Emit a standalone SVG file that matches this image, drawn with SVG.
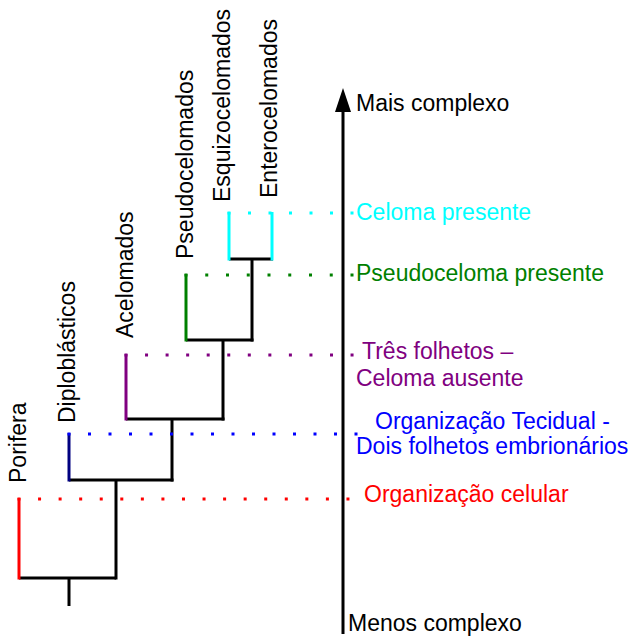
<svg xmlns="http://www.w3.org/2000/svg" width="640" height="642" viewBox="0 0 640 642">
<style>
text{font-family:"Liberation Sans",Arial,sans-serif;font-size:23px}
.b{stroke:#000;stroke-width:3;fill:none}
.d{stroke-width:3;fill:none;stroke-linecap:butt}
.v{fill:#000}
</style>
<rect width="640" height="642" fill="#fff"/>
<g id="connectors">
<line class="b" x1="69" y1="578" x2="69" y2="606"/>
<polyline class="b" points="19,578 116,578"/>
<line class="b" x1="116" y1="480" x2="116" y2="579.5"/>
<line class="b" x1="69" y1="480" x2="173.5" y2="480"/>
<line class="b" x1="172" y1="419" x2="172" y2="481.5"/>
<line class="b" x1="126" y1="419" x2="224.5" y2="419"/>
<line class="b" x1="223" y1="340" x2="223" y2="420.5"/>
<line class="b" x1="186" y1="340" x2="253.5" y2="340"/>
<line class="b" x1="252" y1="259" x2="252" y2="341.5"/>
<line class="b" x1="229" y1="259" x2="273" y2="259"/>
<line stroke="#ff0000" stroke-width="3" x1="19" y1="498" x2="19" y2="579.5"/>
<line stroke="#000080" stroke-width="3" x1="69" y1="433" x2="69" y2="481.5"/>
<line stroke="#800080" stroke-width="3" x1="126" y1="354" x2="126" y2="420.5"/>
<line stroke="#008000" stroke-width="3" x1="186" y1="274" x2="186" y2="341.5"/>
<line stroke="#00ffff" stroke-width="3" x1="229" y1="212" x2="229" y2="260.5"/>
<line stroke="#00ffff" stroke-width="3" x1="272" y1="212" x2="272" y2="260.5"/>
<line class="d" stroke="#00ffff" stroke-dasharray="3 17.5" x1="227.5" y1="213" x2="354" y2="213"/>
<line class="d" stroke="#008000" stroke-dasharray="3 17.75" x1="184.5" y1="275" x2="354" y2="275"/>
<line class="d" stroke="#800080" stroke-dasharray="3 17.55" x1="124.5" y1="355" x2="354" y2="355"/>
<line class="d" stroke="#0000ff" stroke-dasharray="3 17.5" x1="67.5" y1="434" x2="358" y2="434"/>
<line class="d" stroke="#ff0000" stroke-dasharray="3 17.56" x1="17.5" y1="499" x2="350" y2="499"/>
<line class="b" x1="343" y1="108" x2="343" y2="634"/>
<polygon class="v" points="343,88 335,112 351,112"/>
</g>
<g id="porifera"><text transform="translate(26,483) rotate(-90)">Porifera</text></g>
<g id="diploblasticos"><text transform="translate(75,423) rotate(-90)">Diploblásticos</text></g>
<g id="acelomados"><text transform="translate(133,338) rotate(-90)">Acelomados</text></g>
<g id="pseudocelomados"><text transform="translate(193,259) rotate(-90)">Pseudocelomados</text></g>
<g id="esquizocelomados"><text transform="translate(230,202) rotate(-90)">Esquizocelomados</text></g>
<g id="enterocelomados"><text transform="translate(277,198) rotate(-90)">Enterocelomados</text></g>
<g id="mais"><text x="356" y="111">Mais complexo</text></g>
<g id="menos"><text x="348" y="631">Menos complexo</text></g>
<g id="celoma"><text x="356" y="220" fill="#00ffff">Celoma presente</text></g>
<g id="pseudoceloma"><text x="356" y="281" fill="#008000">Pseudoceloma presente</text></g>
<g id="tres"><text fill="#800080"><tspan x="362" y="359">Três folhetos –</tspan><tspan x="356" y="386">Celoma ausente</tspan></text></g>
<g id="tecidual"><text fill="#0000ff"><tspan x="375" y="429">Organização Tecidual -</tspan><tspan x="356" y="454">Dois folhetos embrionários</tspan></text></g>
<g id="celular"><text x="364" y="502" fill="#ff0000">Organização celular</text></g>
</svg>
